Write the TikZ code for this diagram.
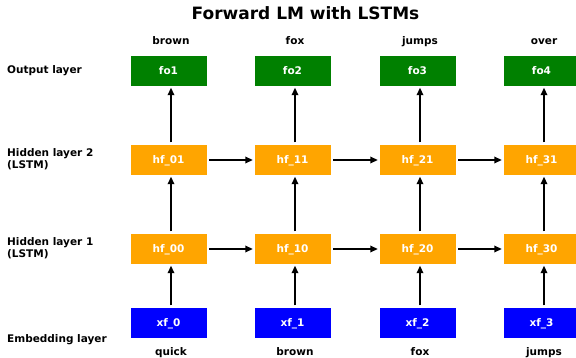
\documentclass[tikz,border=0pt]{standalone}
\usepackage{fontspec}
\setmainfont{DejaVu Sans}
\usetikzlibrary{arrows.meta}
\definecolor{outgreen}{RGB}{0,128,0}
\definecolor{lstmorange}{RGB}{255,165,0}
\definecolor{embblue}{RGB}{0,0,255}
\begin{document}
\begin{tikzpicture}[x=1pt,y=-1pt,
  cell/.style={minimum width=76pt,minimum height=30pt,inner sep=0pt,text=white,
    text height=7.5pt,text depth=0pt,font=\fontsize{10.5}{12.3}\selectfont\bfseries},
  outcell/.style={cell,fill=outgreen},
  lstmcell/.style={cell,fill=lstmorange},
  embcell/.style={cell,fill=embblue},
  word/.style={anchor=base,inner sep=0pt,font=\fontsize{10.5}{12.3}\selectfont\bfseries},
  layer/.style={anchor=west,inner sep=0pt,align=left,font=\fontsize{10.5}{12.3}\selectfont\bfseries},
  arr/.style={-{Triangle[length=7.5pt,width=6.5pt]},line width=1.8pt,shorten <=2.5pt,shorten >=1.5pt}]
\useasboundingbox (0,0) rectangle (576,358);
\node[font=\fontsize{17}{20}\selectfont\bfseries] (title) at (305.5,13) {Forward LM with LSTMs};
%\draw (0,0) to[grid with coordinates] (576,358);
\node[layer] (lout) at (7,71) {Output layer};
\node[layer] (lh2) at (7,159.5) {Hidden layer 2\\(LSTM)};
\node[layer] (lh1) at (7,248) {Hidden layer 1\\(LSTM)};
\node[layer,anchor=base west] (lemb) at (7,342.3) {Embedding layer};
% output layer
\node[outcell] (fo1) at (168.5,71) {fo1};
\node[outcell] (fo2) at (292.5,71) {fo2};
\node[outcell] (fo3) at (417.5,71) {fo3};
\node[outcell] (fo4) at (541.5,71) {fo4};
% hidden layer 2
\node[lstmcell] (hf01) at (168.5,160) {hf\_01};
\node[lstmcell] (hf11) at (292.5,160) {hf\_11};
\node[lstmcell] (hf21) at (417.5,160) {hf\_21};
\node[lstmcell] (hf31) at (541.5,160) {hf\_31};
% hidden layer 1
\node[lstmcell] (hf00) at (168.5,249) {hf\_00};
\node[lstmcell] (hf10) at (292.5,249) {hf\_10};
\node[lstmcell] (hf20) at (417.5,249) {hf\_20};
\node[lstmcell] (hf30) at (541.5,249) {hf\_30};
% embedding layer
\node[embcell] (xf0) at (168.5,323) {xf\_0};
\node[embcell] (xf1) at (292.5,323) {xf\_1};
\node[embcell] (xf2) at (417.5,323) {xf\_2};
\node[embcell] (xf3) at (541.5,323) {xf\_3};
% words
\node[word] (tw1) at (171,44.5) {brown};
\node[word] (tw2) at (295,44.5) {fox};
\node[word] (tw3) at (420,44.5) {jumps};
\node[word] (tw4) at (544,44.5) {over};
\node[word] (bw0) at (171,355) {quick};
\node[word] (bw1) at (295,355) {brown};
\node[word] (bw2) at (420,355) {fox};
\node[word] (bw3) at (544,355) {jumps};
% upward connections
\draw[arr] ([xshift=2.5pt]xf0.north) -- ([xshift=2.5pt]hf00.south);
\draw[arr] ([xshift=2.5pt]xf1.north) -- ([xshift=2.5pt]hf10.south);
\draw[arr] ([xshift=2.5pt]xf2.north) -- ([xshift=2.5pt]hf20.south);
\draw[arr] ([xshift=2.5pt]xf3.north) -- ([xshift=2.5pt]hf30.south);
\draw[arr] ([xshift=2.5pt]hf00.north) -- ([xshift=2.5pt]hf01.south);
\draw[arr] ([xshift=2.5pt]hf10.north) -- ([xshift=2.5pt]hf11.south);
\draw[arr] ([xshift=2.5pt]hf20.north) -- ([xshift=2.5pt]hf21.south);
\draw[arr] ([xshift=2.5pt]hf30.north) -- ([xshift=2.5pt]hf31.south);
\draw[arr] ([xshift=2.5pt]hf01.north) -- ([xshift=2.5pt]fo1.south);
\draw[arr] ([xshift=2.5pt]hf11.north) -- ([xshift=2.5pt]fo2.south);
\draw[arr] ([xshift=2.5pt]hf21.north) -- ([xshift=2.5pt]fo3.south);
\draw[arr] ([xshift=2.5pt]hf31.north) -- ([xshift=2.5pt]fo4.south);
% recurrent connections
\draw[arr] (hf00) -- (hf10);
\draw[arr] (hf10) -- (hf20);
\draw[arr] (hf20) -- (hf30);
\draw[arr] (hf01) -- (hf11);
\draw[arr] (hf11) -- (hf21);
\draw[arr] (hf21) -- (hf31);
\end{tikzpicture}
\end{document}
